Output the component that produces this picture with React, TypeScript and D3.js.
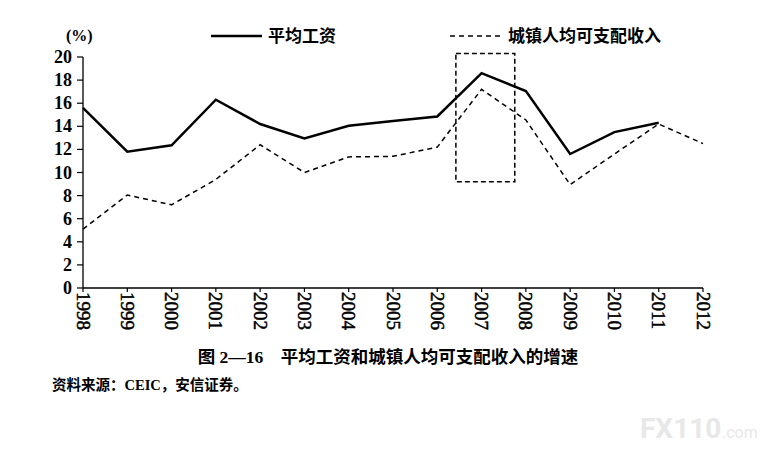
import React from 'react';
import * as d3 from 'd3';

const years = [1998, 1999, 2000, 2001, 2002, 2003, 2004, 2005, 2006, 2007, 2008, 2009, 2010, 2011, 2012];
const wageGrowth: (number | null)[] = [15.6, 11.8, 12.35, 16.3, 14.2, 12.95, 14.05, 14.45, 14.85, 18.6, 17.05, 11.6, 13.5, 14.3, null];
const incomeGrowth: (number | null)[] = [5.1, 8.05, 7.2, 9.4, 12.4, 10.0, 11.35, 11.4, 12.2, 17.2, 14.55, 8.95, 11.6, 14.2, 12.5];
const yTicks = [0, 2, 4, 6, 8, 10, 12, 14, 16, 18, 20];
const highlightYears = [2006.42, 2007.75];
const highlightValues = [9.2, 20.3];
const seriesNames = ['平均工资', '城镇人均可支配收入'];
const yUnit = '(%)';
const caption = '图 2—16　平均工资和城镇人均可支配收入的增速';
const source = '资料来源：CEIC，安信证券。';

const W = 769;
const H = 453;
const FONT = '"Liberation Serif", "Noto Sans CJK SC", serif';

export default function App() {
  const x = d3.scaleLinear().domain([1998, 2012]).range([83, 703]);
  const y = d3.scaleLinear().domain([0, 20]).range([288, 57]);

  const line = d3
    .line<[number, number | null]>()
    .defined((d) => d[1] != null)
    .x((d) => x(d[0]))
    .y((d) => y(d[1] as number));

  const wagePath = line(years.map((yr, i) => [yr, wageGrowth[i]]));
  const incomePath = line(years.map((yr, i) => [yr, incomeGrowth[i]]));

  return (
    <svg
      width={W}
      height={H}
      style={{ position: 'absolute', left: 0, top: 0, background: '#fff' }}
      fontFamily={FONT}
    >
      <rect x={0} y={0} width={W} height={H} fill="#fff" />

      {/* legend */}
      <line x1={211} x2={262} y1={36} y2={36} stroke="#000" strokeWidth={2.5} />
      <text x={268} y={36} dominantBaseline="central" fontSize={17} fontWeight="bold">
        {seriesNames[0]}
      </text>
      <line x1={450} x2={500} y1={36} y2={36} stroke="#000" strokeWidth={1.6} strokeDasharray="5,4" />
      <text x={508} y={36} dominantBaseline="central" fontSize={17} fontWeight="bold">
        {seriesNames[1]}
      </text>

      {/* y unit */}
      <text x={66} y={35} dominantBaseline="central" fontSize={16} fontWeight="bold">
        {yUnit}
      </text>

      {/* y axis */}
      <line x1={x(1998)} x2={x(1998)} y1={y(20)} y2={y(0)} stroke="#000" strokeWidth={1.3} />
      {yTicks.map((t) => (
        <g key={t}>
          <line x1={x(1998) - 6} x2={x(1998)} y1={y(t)} y2={y(t)} stroke="#000" strokeWidth={1.2} />
          <text
            x={x(1998) - 11}
            y={y(t)}
            textAnchor="end"
            dominantBaseline="central"
            fontSize={18}
            fontWeight="bold"
          >
            {t}
          </text>
        </g>
      ))}

      {/* x axis */}
      <line x1={x(1998)} x2={x(2012)} y1={y(0)} y2={y(0)} stroke="#000" strokeWidth={1.3} />
      {years.map((yr) => (
        <g key={yr}>
          <line x1={x(yr)} x2={x(yr)} y1={y(0)} y2={y(0) + 4} stroke="#000" strokeWidth={1.2} />
          <text
            transform={`translate(${x(yr)},${y(0) + 4}) rotate(90)`}
            x={0}
            y={0}
            textAnchor="start"
            dominantBaseline="central"
            fontSize={19}
            fontWeight="normal"
            stroke="#000"
            strokeWidth={0.5}
          >
            {yr}
          </text>
        </g>
      ))}

      {/* highlight box */}
      <rect
        x={x(highlightYears[0])}
        y={y(highlightValues[1])}
        width={x(highlightYears[1]) - x(highlightYears[0])}
        height={y(highlightValues[0]) - y(highlightValues[1])}
        fill="none"
        stroke="#000"
        strokeWidth={1.5}
        strokeDasharray="5,3"
      />

      {/* series */}
      <path d={incomePath || ''} fill="none" stroke="#000" strokeWidth={1.5} strokeDasharray="5,4" />
      <path d={wagePath || ''} fill="none" stroke="#000" strokeWidth={2.5} strokeLinejoin="miter" />

      {/* caption */}
      <text x={388} y={357} textAnchor="middle" dominantBaseline="central" fontSize={17.5} fontWeight="bold">
        {caption}
      </text>
      <text x={52} y={385} dominantBaseline="central" fontSize={14.5} fontWeight="bold">
        {source}
      </text>

      {/* watermark */}
      <text x={640} y={438} fontFamily="Roboto, sans-serif" fontSize={28} fontWeight="bold" fill="#e8e8e8">
        FX110
      </text>
      <text x={722} y={438} fontFamily="Roboto, sans-serif" fontSize={16} fill="#e8e8e8">
        .com
      </text>
    </svg>
  );
}
